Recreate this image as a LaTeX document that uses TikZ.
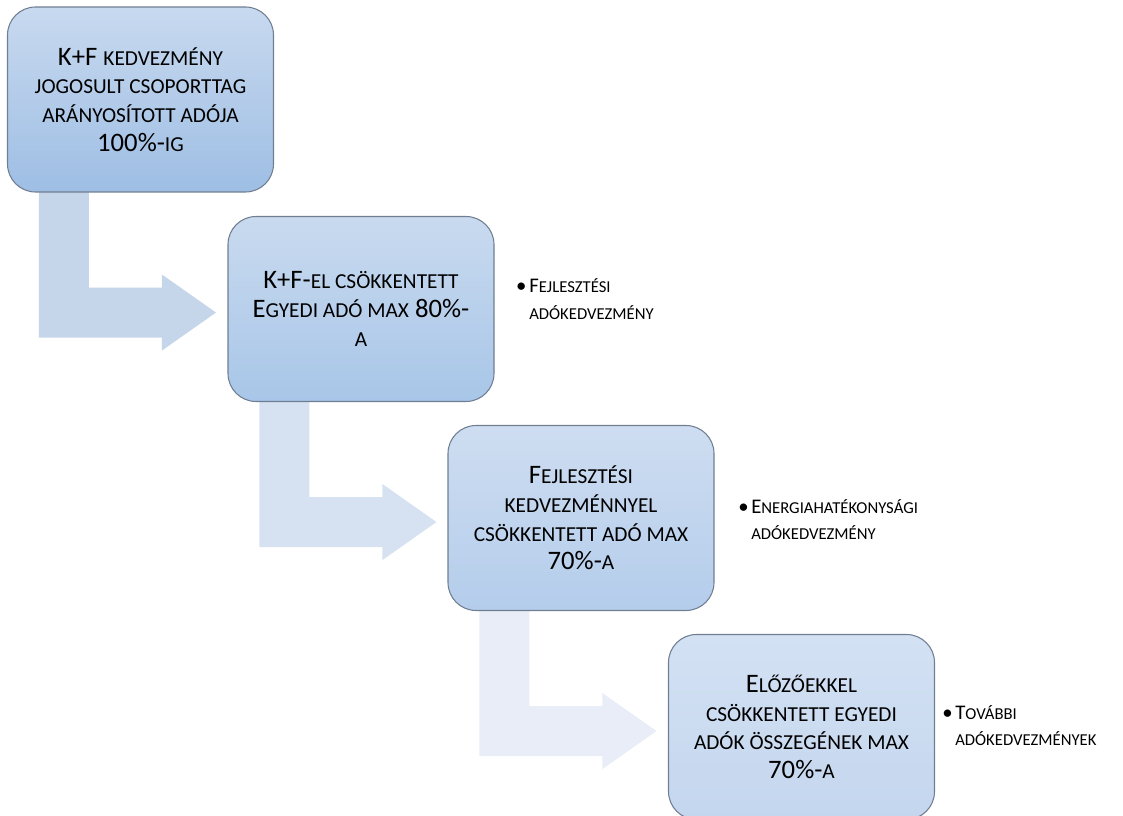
\documentclass[tikz,border=0pt]{standalone}
\usepackage{fontspec}
\setmainfont{Carlito}
\usetikzlibrary{backgrounds}

% stage fills (top / bottom of the vertical gradient)
\definecolor{stageAtop}{RGB}{200,217,239}
\definecolor{stageAbot}{RGB}{158,190,228}
\definecolor{stageBtop}{RGB}{201,218,239}
\definecolor{stageBbot}{RGB}{168,198,232}
\definecolor{stageCtop}{RGB}{206,221,241}
\definecolor{stageCbot}{RGB}{180,205,235}
\definecolor{stageDtop}{RGB}{211,225,243}
\definecolor{stageDbot}{RGB}{196,214,238}
\definecolor{stageedge}{RGB}{112,126,146}
% bent arrows, fading step by step
\definecolor{arrowA}{RGB}{197,213,234}
\definecolor{arrowB}{RGB}{214,226,241}
\definecolor{arrowC}{RGB}{232,237,247}

% faked small capitals: lower-case letters typed as capitals at a smaller size
\newcommand\boxsc[1]{{\fontsize{16}{21.5}\selectfont #1}}
\newcommand\notesc[1]{{\fontsize{12.5}{20}\selectfont #1}}

\begin{document}
\begin{tikzpicture}[x=0.75pt,y=-0.75pt,
  stage/.style={rectangle, rounded corners=21pt, draw=stageedge, line width=0.8pt,
    minimum width=199.5pt, minimum height=138.75pt, inner sep=0pt,
    align=center, text=black, font=\fontsize{20}{21.5}\selectfont},
  note/.style={anchor=base west, inner sep=0pt, text=black,
    font=\fontsize{15.6}{20}\selectfont},
  pics/bentarrow/.style={code={
    \fill[#1] (0,0) -- (50,0) -- (50,102) -- (123,102) -- (123,89)
      -- (177,127) -- (123,165) -- (123,152) -- (0,152) -- cycle;}}]

\useasboundingbox (0,0) rectangle (1123,816);
\clip (0,0) rectangle (1123,816);

% the four stages
\node[stage, top color=stageAtop, bottom color=stageAbot] (b1) at (140.5,99.5)
  {K+F \boxsc{KEDVEZMÉNY}\\ \boxsc{JOGOSULT CSOPORTTAG}\\ \boxsc{ARÁNYOSÍTOTT ADÓJA}\\ 100\%-\boxsc{IG}};
\node[stage, top color=stageBtop, bottom color=stageBbot] (b2) at (361,309)
  {K+F-\boxsc{EL CSÖKKENTETT}\\ E\boxsc{GYEDI ADÓ MAX} 80\%-\\ \boxsc{A}};
\node[stage, top color=stageCtop, bottom color=stageCbot] (b3) at (581,518)
  {F\boxsc{EJLESZTÉSI}\\ \boxsc{KEDVEZMÉNNYEL}\\ \boxsc{CSÖKKENTETT ADÓ MAX}\\ 70\%-\boxsc{A}};
\node[stage, top color=stageDtop, bottom color=stageDbot] (b4) at (801.5,727)
  {E\boxsc{LŐZŐEKKEL}\\ \boxsc{CSÖKKENTETT EGYEDI}\\ \boxsc{ADÓK ÖSSZEGÉNEK MAX}\\ 70\%-\boxsc{A}};

% bulleted side notes
\node[note] (n1) at (529,293)
  {\begin{tabular}[t]{@{}l@{}}\llap{•\kern2pt}F\notesc{EJLESZTÉSI}\\ \notesc{ADÓKEDVEZMÉNY}\end{tabular}};
\node[note] (n2) at (751,513)
  {\begin{tabular}[t]{@{}l@{}}\llap{•\kern2pt}E\notesc{NERGIAHATÉKONYSÁGI}\\ \notesc{ADÓKEDVEZMÉNY}\end{tabular}};
\node[note] (n3) at (955,719)
  {\begin{tabular}[t]{@{}l@{}}\llap{•\kern2pt}T\notesc{OVÁBBI}\\ \notesc{ADÓKEDVEZMÉNYEK}\end{tabular}};

% bent arrows from each stage down into the next, behind the boxes
\begin{scope}[on background layer]
  \path (b1.south west) ++(32,-7) pic {bentarrow=arrowA};
  \path (b2.south west) ++(32,-7) pic {bentarrow=arrowB};
  \path (b3.south west) ++(32,-7) pic {bentarrow=arrowC};
\end{scope}
\end{tikzpicture}
\end{document}
